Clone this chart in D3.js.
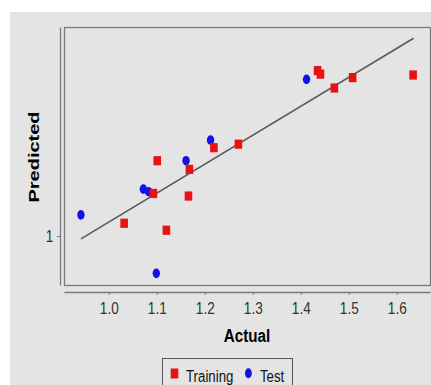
<!DOCTYPE html>
<html>
<head>
<meta charset="utf-8">
<script src="https://cdn.jsdelivr.net/npm/d3@7"></script>
<style>
  body { margin: 0; background: #fff; }
  text { font-family: "Liberation Sans", Arial, sans-serif; }
</style>
</head>
<body>
<div id="chart"></div>
<script>
// training set (actual, predicted)
const trainActual = [1.032, 1.093, 1.101, 1.120, 1.166, 1.168, 1.219, 1.270, 1.435, 1.441, 1.470, 1.508, 1.634];
const trainPred   = [1.044, 1.147, 1.260, 1.020, 1.138, 1.230, 1.305, 1.317, 1.571, 1.559, 1.511, 1.547, 1.556];
// test set
const testActual = [0.942, 1.072, 1.083, 1.161, 1.212, 1.099, 1.412];
const testPred   = [1.073, 1.162, 1.153, 1.260, 1.331, 0.871, 1.541];
// fitted line end points
const fitActual = [0.942, 1.635];
const fitPred   = [0.990, 1.683];

const xTicks = [1.0, 1.1, 1.2, 1.3, 1.4, 1.5, 1.6];
const yTicks = [1];
const seriesNames = ['Training', 'Test'];
const seriesColors = ['#e81212', '#1212e8'];

const W = 431, H = 385;
const plot = {left: 64, right: 430, top: 27, bottom: 285};

const svg = d3.select('#chart').append('svg')
  .attr('width', W)
  .attr('height', H);

// grey panel
svg.append('rect')
  .attr('x', 10).attr('y', 12)
  .attr('width', W - 10).attr('height', H - 12)
  .attr('fill', '#e4e4e4');

const x = d3.scaleLinear()
  .domain([0.9067, 1.6692])
  .range([plot.left, plot.right]);

const y = d3.scaleLinear()
  .domain([0.8308, 1.7217])
  .range([plot.bottom, plot.top]);

// plot border
svg.append('rect')
  .attr('x', plot.left + 0.5).attr('y', plot.top + 0.5)
  .attr('width', plot.right - plot.left).attr('height', plot.bottom - plot.top)
  .attr('fill', 'none')
  .attr('stroke', '#7a7a7a')
  .attr('stroke-width', 1.3);

// axes
const xAxis = svg.append('g')
  .attr('transform', 'translate(0,292)')
  .call(d3.axisBottom(x).tickValues(xTicks).tickFormat(d3.format('.1f'))
    .tickSize(3).tickSizeOuter(0).tickPadding(8));

const yAxis = svg.append('g')
  .attr('transform', 'translate(60,0)')
  .call(d3.axisLeft(y).tickValues(yTicks).tickFormat(d3.format('d'))
    .tickSize(3).tickSizeOuter(0).tickPadding(5));

[xAxis, yAxis].forEach(g => {
  g.select('.domain').attr('stroke', '#7a7a7a').attr('stroke-width', 1.3);
  g.selectAll('.tick line').attr('stroke', '#7a7a7a');
  g.selectAll('.tick text')
    .attr('fill', '#333')
    .style('font-size', '16px')
    .attr('transform', 'scale(0.85,1)');
});

// fitted line
svg.append('line')
  .attr('x1', x(fitActual[0])).attr('y1', y(fitPred[0]))
  .attr('x2', x(fitActual[1])).attr('y2', y(fitPred[1]))
  .attr('stroke', '#5a5a5a')
  .attr('stroke-width', 1.6);

// test points (ellipses)
svg.append('g').selectAll('ellipse')
  .data(testActual.map((a, i) => [a, testPred[i]]))
  .join('ellipse')
  .attr('cx', d => x(d[0]))
  .attr('cy', d => y(d[1]))
  .attr('rx', 3.7).attr('ry', 4.8)
  .attr('fill', seriesColors[1]);

// training points (squares)
svg.append('g').selectAll('rect')
  .data(trainActual.map((a, i) => [a, trainPred[i]]))
  .join('rect')
  .attr('x', d => x(d[0]) - 3.8)
  .attr('y', d => y(d[1]) - 4.6)
  .attr('width', 7.6).attr('height', 9.2)
  .attr('fill', seriesColors[0]);

// axis titles
svg.append('text')
  .attr('transform', 'translate(247,342) scale(0.8,1)')
  .attr('text-anchor', 'middle')
  .style('font-size', '19px')
  .style('font-weight', 'bold')
  .text('Actual');

svg.append('text')
  .attr('transform', 'translate(38.5,157) rotate(-90) scale(1,0.76)')
  .attr('text-anchor', 'middle')
  .style('font-size', '20px')
  .style('font-weight', 'bold')
  .text('Predicted');

// legend
const legend = svg.append('g');
legend.append('rect')
  .attr('x', 162.5).attr('y', 358.5)
  .attr('width', 130).attr('height', 40)
  .attr('fill', 'none')
  .attr('stroke', '#555');

const legendX = [170.7, 245];
const textX = [186, 260];
seriesNames.forEach((name, i) => {
  if (i === 0) {
    legend.append('rect')
      .attr('x', legendX[i]).attr('y', 368.5)
      .attr('width', 7.6).attr('height', 10)
      .attr('fill', seriesColors[i]);
  } else {
    legend.append('ellipse')
      .attr('cx', legendX[i] + 3.4).attr('cy', 373.3)
      .attr('rx', 3.4).attr('ry', 5)
      .attr('fill', seriesColors[i]);
  }
  legend.append('text')
    .attr('transform', `translate(${textX[i]},381.5) scale(0.78,1)`)
    .style('font-size', '17px')
    .attr('fill', '#111')
    .text(name);
});
</script>
</body>
</html>
